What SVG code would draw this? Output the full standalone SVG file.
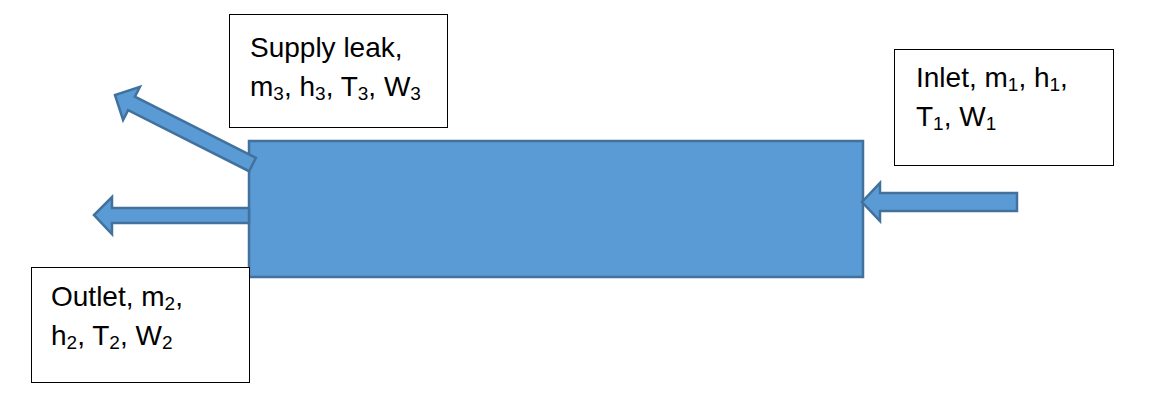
<svg xmlns="http://www.w3.org/2000/svg" width="1150" height="412" viewBox="0 0 1150 412">
<style>
.shape{fill:#5b9bd5;stroke:#41719c;stroke-width:2.5;stroke-linejoin:miter}
.box{fill:#ffffff;stroke:#000000;stroke-width:1}
.lbl{font-family:"Liberation Sans",Arial,sans-serif;font-size:28px;fill:#000000}
.sub{font-size:19px}
</style>
<rect x="0" y="0" width="1150" height="412" fill="#ffffff"/>
<g id="pipe">
<rect class="shape" x="249" y="141" width="614" height="136"/>
</g>
<g id="connectors">
<polygon class="shape" points="1017,193 880,193 880,183 862,202 880,221 880,211 1017,211"/>
<polygon class="shape" points="249,208 112,208 112,197 94,215 112,234 112,223 249,223"/>
<polygon class="shape" points="255.9,157.8 134.9,96.7 139.9,86.8 115,95 123.1,120 128.1,110.1 249.1,171.2"/>
</g>
<g id="supply">
<rect class="box" x="229.5" y="14.5" width="218" height="113"/>
<text class="lbl" x="250" y="57">Supply leak,</text>
<text class="lbl" x="250" y="96">m<tspan class="sub" dy="4">3</tspan><tspan dy="-4">, h</tspan><tspan class="sub" dy="4">3</tspan><tspan dy="-4">, T</tspan><tspan class="sub" dy="4">3</tspan><tspan dy="-4">, W</tspan><tspan class="sub" dy="4">3</tspan></text>
</g>
<g id="inlet">
<rect class="box" x="894.5" y="49.5" width="219" height="116"/>
<text class="lbl" x="916" y="87">Inlet, m<tspan class="sub" dy="4">1</tspan><tspan dy="-4">, h</tspan><tspan class="sub" dy="4">1</tspan><tspan dy="-4">,</tspan></text>
<text class="lbl" x="916" y="126">T<tspan class="sub" dy="4">1</tspan><tspan dy="-4">, W</tspan><tspan class="sub" dy="4">1</tspan></text>
</g>
<g id="outlet">
<rect class="box" x="31.5" y="267.5" width="218" height="115"/>
<text class="lbl" x="51" y="306">Outlet, m<tspan class="sub" dy="4">2</tspan><tspan dy="-4">,</tspan></text>
<text class="lbl" x="51" y="345">h<tspan class="sub" dy="4">2</tspan><tspan dy="-4">, T</tspan><tspan class="sub" dy="4">2</tspan><tspan dy="-4">, W</tspan><tspan class="sub" dy="4">2</tspan></text>
</g>
</svg>
